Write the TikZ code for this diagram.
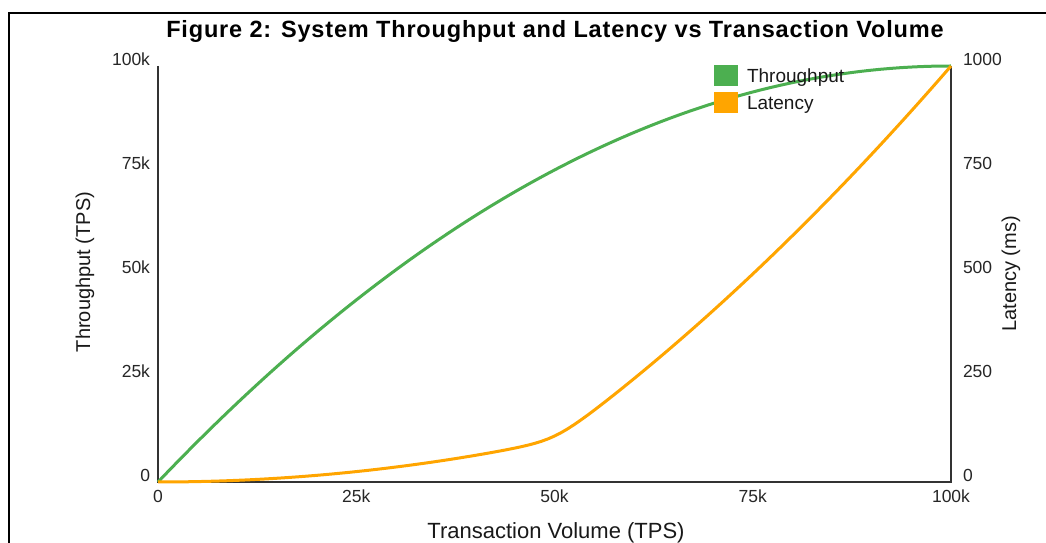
\documentclass[tikz,border=0pt]{standalone}
\usepackage{fontspec}
\setmainfont{Liberation Sans}
\usetikzlibrary{positioning}
\definecolor{tpgreen}{HTML}{4CAF50}
\definecolor{latorange}{HTML}{FFA500}
\definecolor{axisgray}{HTML}{333333}

\begin{document}
\begin{tikzpicture}[x=1pt,y=1pt,
  declare function={sp(\d)=max(\d,0)+1.5*ln(1+exp(-abs(\d)/1.5));}]

\tikzstyle{every node}=[inner sep=0pt, outer sep=0pt]
\tikzstyle{ticklabel}=[font=\fontsize{17.5}{17.5}\selectfont, text=black!85]
\tikzstyle{axistitle}=[font=\fontsize{20}{20}\selectfont, text=black!90]
\tikzstyle{legendtext}=[font=\fontsize{19}{19}\selectfont, text=black!90]
\tikzstyle{axis}=[draw=axisgray, line width=1.8pt]
\tikzstyle{curve}=[line width=3pt, line join=round]

\useasboundingbox (0,0) rectangle (1046,543);
% frame, cut off at the right and bottom
\coordinate (fbot) at (9,0);
\coordinate (fcorner) at (9,530);
\coordinate (fright) at (1046,530);
\draw[line width=2.5pt] (fbot) -- (fcorner) -- (fright);

\node[font=\bfseries\fontsize{23.5}{23.5}\selectfont\addfontfeature{LetterSpace=3.5}, anchor=base] (title) at (555,505)
  {Figure 2: System Throughput and Latency vs Transaction Volume};

\begin{scope}[shift={(158,61)}, x=7.93pt, y=4.16pt]
\coordinate (O) at (0,0);
\coordinate (ytop) at (0,100);
\coordinate (xend) at (100,0);
\coordinate (rtop) at (100,100);
\draw[axis] (ytop) -- (O) -- (xend) -- (rtop);

\foreach \v/\t in {0/0,25/25k,50/50k,75/75k,100/100k}{
  \node[ticklabel, anchor=base east] (yl\v) at ([xshift=-8pt]0,\v) {\t};
  \node[ticklabel, anchor=base] (xl\v) at ([yshift=-21pt]\v,0) {\t};
}
\foreach \v/\t in {0/0,25/250,50/500,75/750,100/1000}
  \node[ticklabel, anchor=base west] (rl\v) at ([xshift=12pt]100,\v) {\t};

%throughput, thousands of TPS
\draw[curve, tpgreen] plot[domain=0:100, samples=80] (\x, {100*(1-(1-\x/100)^2)});
%latency, ms/10 (knee at 50k)
\draw[curve, latorange] plot[domain=0:100, samples=121]
  (\x, {(100*(\x/50)^2 + 10*sp(\x-50) + 0.04*sp(\x-50)^2)/10});
\end{scope}

\node[axistitle, font=\fontsize{22}{22}\selectfont, anchor=base] (xtitle) at (556,5) {Transaction Volume (TPS)};
\node[axistitle, rotate=90] (ytitle) at (85,271) {Throughput (TPS)};
\node[axistitle, rotate=90] (rtitle) at (1011,269) {Latency (ms)};

% legend
\node[fill=tpgreen, minimum width=24pt, minimum height=21pt] (tpkey) at (726,467) {};
\node[fill=latorange, minimum width=24pt, minimum height=21pt, below=6pt of tpkey] (latkey) {};
\node[legendtext, anchor=base west] (tptext) at ([xshift=9pt,yshift=-7pt]tpkey.east) {Throughput};
\node[legendtext, anchor=base west] (lattext) at ([xshift=9pt,yshift=-7pt]latkey.east) {Latency};

\end{tikzpicture}
\end{document}
